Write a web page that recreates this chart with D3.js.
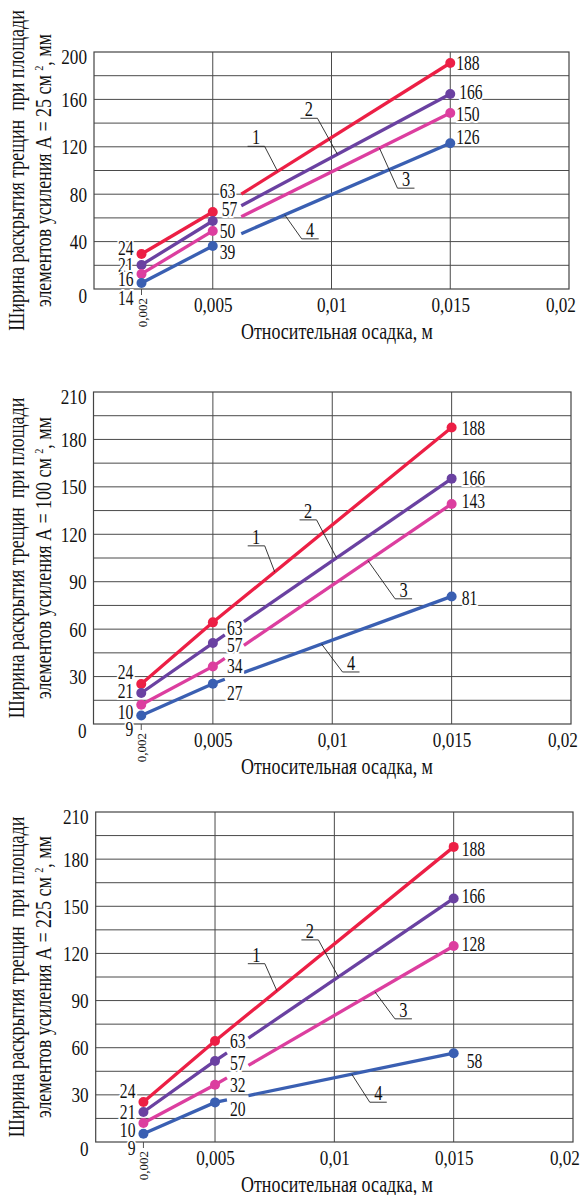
<!DOCTYPE html>
<html>
<head>
<meta charset="utf-8">
<script src="https://cdn.jsdelivr.net/npm/d3@7"></script>
<style>
  body { margin: 0; background: #fff; }
  text { font-family: "Liberation Serif", "Times New Roman", serif; fill: #111; }
</style>
</head>
<body>
<div id="chart"></div>
<script>
// settlement values on the x axis where the points sit
var xs = [0.002, 0.005, 0.015];
var xTickValues = [0.005, 0.01, 0.015, 0.02];
var xTickLabels = ["0,005", "0,01", "0,015", "0,02"];
var seriesNames = ["1", "2", "3", "4"];
var colors = ["#ec1f45", "#6a41a1", "#dc3e9f", "#3a5fb2"];

// A = 25 cm2 (plotted values, then printed labels)
var w25 = [[29.5, 65.0, 190.7], [20.3, 57.4, 164.6], [12.7, 49.0, 148.5], [5.0, 36.3, 123.0]];
var lab25 = [["24", "63", "188"], ["21", "57", "166"], ["16", "50", "150"], ["14", "39", "126"]];
var yTicks25 = [0, 40, 80, 120, 160, 200];

// A = 100 cm2
var w100 = [[25.3, 64.3, 187.6], [19.6, 51.2, 155.2], [12.2, 36.4, 139.2], [5.4, 25.5, 80.7]];
var lab100 = [["24", "63", "188"], ["21", "57", "166"], ["10", "34", "143"], ["9", "27", "81"]];

// A = 225 cm2
var w225 = [[25.4, 64.3, 187.8], [19.1, 51.6, 155.0], [12.1, 36.4, 124.7], [5.3, 25.2, 56.5]];
var lab225 = [["24", "63", "188"], ["21", "57", "166"], ["10", "32", "128"], ["9", "20", "58"]];
var yTicks210 = [0, 30, 60, 90, 120, 150, 180, 210];

var SX = 0.78; // the source font is a condensed Times

var svg = d3.select("#chart").append("svg")
  .attr("width", 584)
  .attr("height", 1195)
  .style("background-color", "#fff");

function ctext(sel, x, y, s, size, anchor) {
  return sel.append("text")
    .attr("transform", "translate(" + x + "," + y + ") scale(" + SX + ",1)")
    .attr("text-anchor", anchor || "start")
    .attr("font-size", size)
    .text(s);
}

// value of a series at any x (straight pieces between the points)
function at(v, xv) {
  var j = xv <= xs[1] ? 0 : 1;
  var t = (xv - xs[j]) / (xs[j + 1] - xs[j]);
  return v[j] + t * (v[j + 1] - v[j]);
}

function drawChart(c) {
  var x = d3.scaleLinear().domain([0, 0.02]).range([c.left, c.right]);
  var y = d3.scaleLinear().domain([0, c.yMax]).range([c.bottom, c.top]);
  var g = svg.append("g");

  // grid
  g.selectAll(".hg").data(d3.range(c.gridStep, c.yMax, c.gridStep)).join("line")
    .attr("x1", c.left).attr("x2", c.right)
    .attr("y1", function(d) { return y(d); }).attr("y2", function(d) { return y(d); })
    .attr("stroke", "#4a4a4a").attr("stroke-width", 1);
  g.selectAll(".vg").data(xTickValues.slice(0, 3)).join("line")
    .attr("x1", function(d) { return x(d); }).attr("x2", function(d) { return x(d); })
    .attr("y1", c.top).attr("y2", c.bottom)
    .attr("stroke", "#4a4a4a").attr("stroke-width", 1);
  g.append("line")
    .attr("x1", x(xs[0])).attr("x2", x(xs[0]))
    .attr("y1", c.bottom).attr("y2", c.bottom + 6)
    .attr("stroke", "#555");
  g.append("rect")
    .attr("x", c.left).attr("y", c.top)
    .attr("width", c.right - c.left).attr("height", c.bottom - c.top)
    .attr("fill", "none").attr("stroke", "#444").attr("stroke-width", 1.2);

  // axes
  var last = c.yTicks.length - 1;
  g.append("g")
    .attr("transform", "translate(" + c.left + ",0)")
    .call(d3.axisLeft(y).tickValues(c.yTicks).tickSize(0).tickPadding(9))
    .call(function(a) { a.select(".domain").remove(); })
    .selectAll("text")
    .attr("font-size", 22)
    .attr("y", function(d, i) { return i === 0 ? 6 : (i === last ? 4 : 0); })
    .attr("transform", "scale(" + SX + ",1)");

  g.append("g")
    .attr("transform", "translate(0," + c.bottom + ")")
    .call(d3.axisBottom(x).tickValues(xTickValues)
      .tickFormat(function(d, i) { return xTickLabels[i]; })
      .tickSize(0).tickPadding(7))
    .call(function(a) { a.select(".domain").remove(); })
    .selectAll("text")
    .attr("font-size", 22)
    .attr("dx", function(d, i) { return i === 3 ? -11 : 0; })
    .attr("transform", "scale(" + SX + ",1)");

  // the rotated 0,002 tick label
  g.append("text")
    .attr("transform", "translate(" + (x(xs[0]) + 5) + "," + (c.bottom + 9) + ") rotate(-90)")
    .attr("text-anchor", "end")
    .attr("font-size", 13)
    .text("0,002");

  // axis titles
  ctext(g, 337, c.bottom + 50, "Относительная осадка, м", 23, "middle");

  var cy = (c.top + c.bottom) / 2;
  g.append("text")
    .attr("transform", "translate(24," + cy + ") rotate(-90) scale(" + SX + ",1)")
    .attr("text-anchor", "middle")
    .attr("font-size", 23)
    .text("Ширина раскрытия трещин\u00a0 при площади");
  var t2 = g.append("text")
    .attr("transform", "translate(51," + cy + ") rotate(-90) scale(" + SX + ",1)")
    .attr("text-anchor", "middle")
    .attr("font-size", 23);
  t2.append("tspan").text("элементов усиления А = " + c.area + " см ");
  t2.append("tspan").attr("dy", -8).attr("font-size", 13).text("2");
  t2.append("tspan").attr("dy", 8).text(", мм");

  var line = d3.line()
    .x(function(d) { return x(d[0]); })
    .y(function(d) { return y(d[1]); });

  c.values.forEach(function(v, i) {
    var segs;
    if (c.broken[i]) {
      segs = [
        [[xs[0], v[0]], [xs[1], v[1]], [c.stubEnd, at(v, c.stubEnd)]],
        [[c.gapEnd, at(v, c.gapEnd)], [xs[2], v[2]]]
      ];
    } else {
      segs = [xs.map(function(xv, j) { return [xv, v[j]]; })];
    }
    g.selectAll(".s" + i).data(segs).join("path")
      .attr("d", line)
      .attr("fill", "none")
      .attr("stroke", colors[i])
      .attr("stroke-width", 3.3);
    g.selectAll(".p" + i).data(xs).join("circle")
      .attr("cx", function(d) { return x(d); })
      .attr("cy", function(d, j) { return y(v[j]); })
      .attr("r", 5)
      .attr("fill", colors[i]);
  });

  // value labels
  c.labels.forEach(function(lab, i) {
    lab.forEach(function(s, j) {
      var v = c.values[i][j];
      var px = x(xs[j]) + c.labDx[j][i];
      var py = y(v) + c.labDy[j][i];
      ctext(g, px, py, s, 20, j === 0 ? "end" : "start")
        .attr("dy", "0.35em")
        .attr("stroke", "#fff").attr("stroke-width", 4)
        .attr("paint-order", "stroke");
    });
  });

  // numbered leaders
  c.notes.forEach(function(n, i) {
    var tx = x(n.x), ty = y(at(c.values[i], n.x));
    var ex = tx + n.dx, ey = ty + n.dy;
    var ux = n.side === "right" ? ex - 17 : ex;
    g.append("line").attr("x1", tx).attr("y1", ty).attr("x2", ex).attr("y2", ey)
      .attr("stroke", "#222").attr("stroke-width", 0.9);
    g.append("line").attr("x1", ux).attr("y1", ey).attr("x2", ux + 17).attr("y2", ey)
      .attr("stroke", "#222").attr("stroke-width", 0.9);
    ctext(g, ux + 8.5, ey - 2, seriesNames[i], 21, "middle");
  });
}

drawChart({
  area: "25", values: w25, labels: lab25, yMax: 200, gridStep: 20, yTicks: yTicks25,
  left: 94, right: 569, top: 52, bottom: 289,
  broken: [true, true, true, true], stubEnd: 0.005, gapEnd: 0.0062,
  labDx: [[-8, -8, -8, -8], [7, 9, 7, 7], [6, 9, 6, 6]],
  labDy: [[-6, 0, 5, 15], [-21, -12, 0, 6], [0, -2, 1, -6]],
  notes: [
    { x: 0.00773, dx: -13, dy: -25, side: "right" },
    { x: 0.01025, dx: -20, dy: -36, side: "right" },
    { x: 0.01202, dx: 18, dy: 40, side: "left" },
    { x: 0.00803, dx: 17, dy: 24, side: "left" }
  ]
});

drawChart({
  area: "100", values: w100, labels: lab100, yMax: 210, gridStep: 15, yTicks: yTicks210,
  left: 93.5, right: 571, top: 392, bottom: 724,
  broken: [false, true, true, true], stubEnd: 0.0055, gapEnd: 0.0063,
  labDx: [[-8, -8, -8, -8], [14, 14, 14, 14], [10, 10, 10, 10]],
  labDy: [[-12, -2, 7, 14], [6, 2, 0, 9], [1, -1, -3, 2]],
  notes: [
    { x: 0.00759, dx: -10, dy: -26, side: "right" },
    { x: 0.01018, dx: -20, dy: -38, side: "right" },
    { x: 0.0115, dx: 27, dy: 38, side: "left" },
    { x: 0.00955, dx: 21, dy: 28, side: "left" }
  ]
});

drawChart({
  area: "225", values: w225, labels: lab225, yMax: 210, gridStep: 15, yTicks: yTicks210,
  left: 95.7, right: 573, top: 812, bottom: 1142,
  broken: [false, true, true, true], stubEnd: 0.0055, gapEnd: 0.0064,
  labDx: [[-8, -8, -8, -8], [15, 15, 15, 15], [8, 8, 8, 13]],
  labDy: [[-11, 0, 7, 14], [0, 2, 0, 7], [2, -2, -2, 8]],
  notes: [
    { x: 0.00759, dx: -12, dy: -27, side: "right" },
    { x: 0.01017, dx: -20, dy: -37, side: "right" },
    { x: 0.0117, dx: 20, dy: 27, side: "left" },
    { x: 0.01073, dx: 18, dy: 28, side: "left" }
  ]
});
</script>
</body>
</html>
